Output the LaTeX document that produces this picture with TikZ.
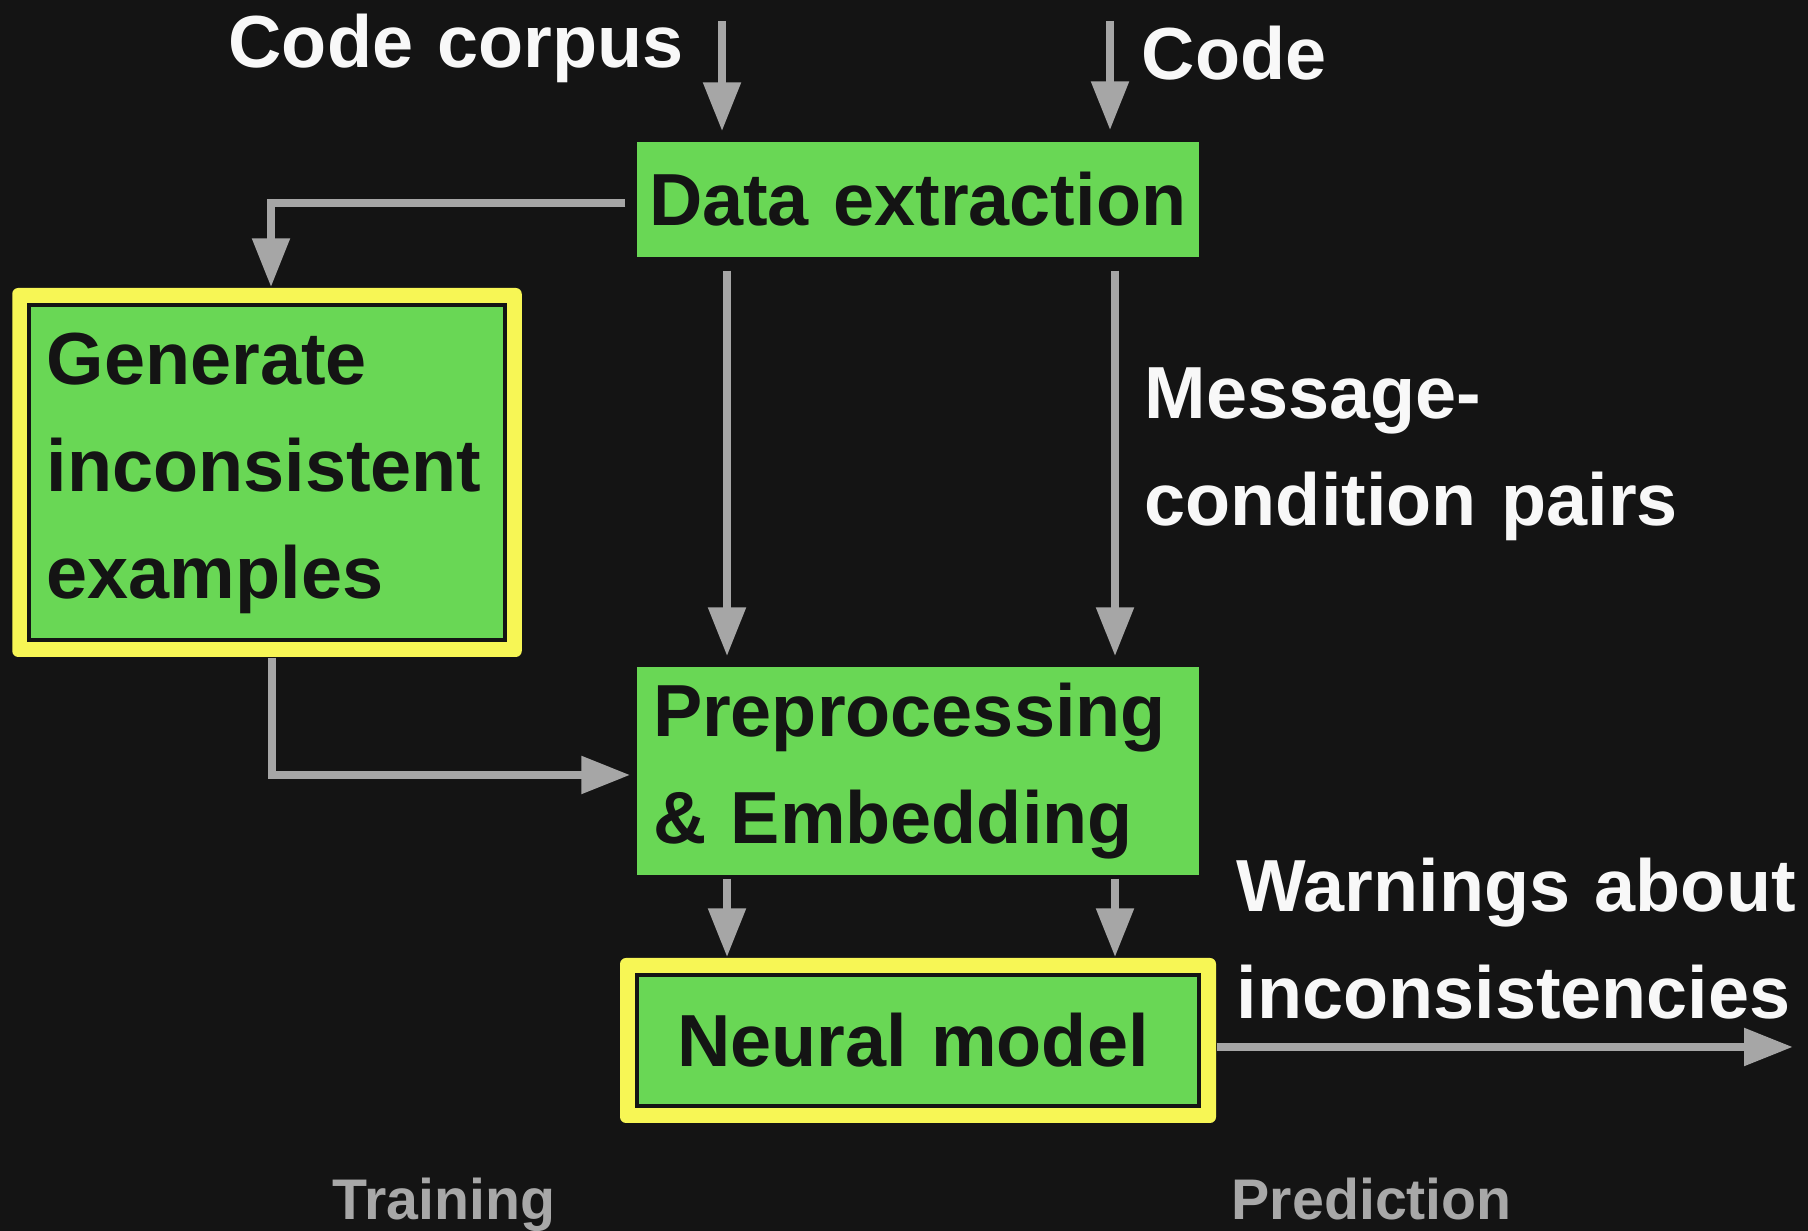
\documentclass[tikz,border=0pt]{standalone}
\usepackage{fontspec}
\setmainfont{Liberation Sans}
\usepackage{tikz}
\usetikzlibrary{arrows.meta,fit,backgrounds}

\definecolor{bgdark}{HTML}{141414}
\definecolor{ink}{HTML}{141414}
\definecolor{stagegreen}{HTML}{69D755}
\definecolor{hlyellow}{HTML}{F7F655}
\definecolor{flowgray}{HTML}{A6A6A6}
\definecolor{labelwhite}{HTML}{F8F8F8}
\definecolor{phasegray}{HTML}{A8A8A8}

\newcommand{\stagefont}{\fontsize{21}{30.44}\selectfont\bfseries\hyphenpenalty=10000}
\newcommand{\phasefont}{\fontsize{16.3}{20}\selectfont\bfseries}

\begin{document}
\begin{tikzpicture}[
  flow/.style={draw=flowgray, line width=0.085cm, -{Triangle[length=0.49cm,width=0.36cm]}},
  stage/.style={fill=stagegreen, text=ink, font=\stagefont, align=left, inner ysep=0pt,
    inner xsep=0.12cm, text width=5.38cm, text height=0.53cm, text depth=0cm},
  keystage/.style={stage, draw=ink, line width=0.04cm},
  hlframe/.style={fill=hlyellow, rounded corners=0.06cm, inner sep=0.15cm},
  caption/.style={text=labelwhite, font=\stagefont, align=left, text width=5.8cm,
    inner sep=0pt, anchor=base west},
  phase/.style={text=phasegray, font=\phasefont, inner sep=0pt, anchor=base west}
]
\useasboundingbox (0,0) rectangle (18.08,12.31);

%%%%% Stages %%%%%
\node[stage, minimum height=1.15cm] (dx) at (9.18,10.315) {Data extraction};
\node[keystage, text width=4.405cm, inner xsep=0.175cm, text depth=2.29cm,
  minimum height=3.35cm] (gen) at (2.67,7.585) {Generate\\inconsistent\\examples};
\node[stage, inner xsep=0.16cm, text width=5.30cm, text depth=1.22cm, minimum height=2.08cm]
  (pre) at (9.18,4.60) {Preprocessing\\\& Embedding};
\node[keystage, inner xsep=0.40cm, text width=4.82cm, minimum height=1.31cm] (nm)
  at (9.18,1.905) {Neural model};

\begin{scope}[on background layer]
  \fill[bgdark] (0,0) rectangle (18.08,12.31);
  \node[hlframe, fit=(gen)] (genframe) {};
  \node[hlframe, fit=(nm)] (nmframe) {};
\end{scope}

%%%%% Labels %%%%%
\node[caption] (corpus) at (2.28,11.63) {Code corpus};
\node[caption] (code) at (11.41,11.51) {Code};
\node[caption] (pairs) at (11.44,8.12) {Message-\\condition pairs};
\node[caption] (warn) at (12.36,3.19) {Warnings about\\inconsistencies};
\node[phase] (train) at (3.32,0.11) {Training};
\node[phase] (predict) at (12.31,0.11) {Prediction};

%%%%% Flow %%%%%
\coordinate (corpusin) at (7.22,12.10);
\coordinate (codein) at (11.10,12.10);
\coordinate (trainlane) at (7.27,0);
\coordinate (predlane) at (11.15,0);
\coordinate (warnout) at (17.93,1.84);
\draw[flow, shorten >=0.1cm] (corpusin) -- (corpusin |- dx.north);
\draw[flow, shorten >=0.11cm] (codein) -- (codein |- dx.north);
\draw[flow, shorten <=0.11cm] ([yshift=-0.035cm]dx.west) -| ([xshift=0.04cm]genframe.north);
\foreach \lane in {trainlane,predlane}{
\draw[flow, shorten <=0.13cm, shorten >=0.1cm] (\lane |- dx.south) -- (\lane |- pre.north);
\draw[flow, shorten <=0.03cm] (\lane |- pre.south) -- (\lane |- nmframe.north);
}
\draw[flow, shorten >=0.06cm] ([xshift=0.05cm]genframe.south) |- ([yshift=-0.04cm]pre.west);
\draw[flow] (warnout -| nmframe.east) -- (warnout);

\end{tikzpicture}
\end{document}
